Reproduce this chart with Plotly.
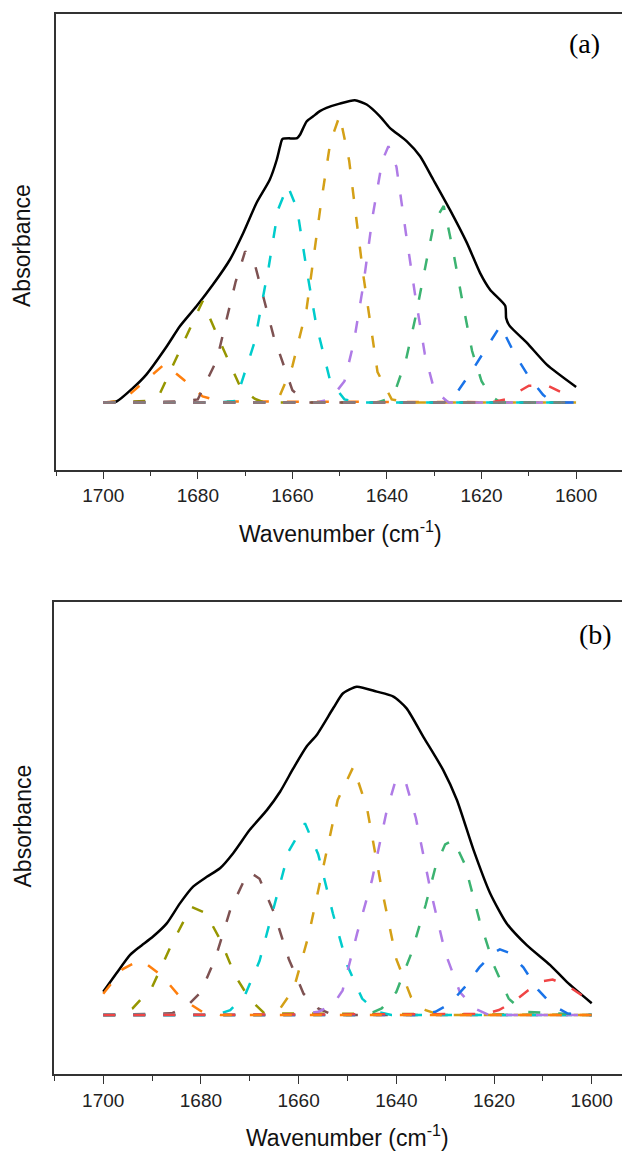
import plotly.graph_objects as go

# ---------------- panel (a) ----------------
a_env_x = [1700, 1697.2, 1693.7, 1690.9, 1686.6, 1683.8, 1680.3, 1676.8, 1673.2, 1670.4,
           1667.6, 1664.8, 1663.3, 1662.6, 1662.1, 1659.0, 1658.4, 1657.0, 1655.6, 1654.2,
           1652.8, 1650.0, 1646.8, 1644.3, 1641.5, 1639.4, 1635.8, 1633.0, 1630.2, 1626.7,
           1623.1, 1620.3, 1618.2, 1615.0, 1614.8, 1614.1, 1610.4, 1606.2, 1600]
a_env_y = [0, 0.003, 0.048, 0.092, 0.185, 0.252, 0.318, 0.390, 0.473, 0.561,
           0.660, 0.737, 0.804, 0.848, 0.872, 0.875, 0.886, 0.930, 0.947, 0.964,
           0.975, 0.989, 1.0, 0.986, 0.947, 0.909, 0.864, 0.815, 0.737, 0.638,
           0.528, 0.428, 0.373, 0.320, 0.279, 0.254, 0.197, 0.125, 0.051]

a_orange_x = [1700, 1696, 1692, 1687, 1683, 1679, 1675, 1600]
a_orange_y = [0, 0.005, 0.06, 0.127, 0.075, 0.02, 0.003, 0]
a_olive_x = [1700, 1690, 1688, 1683, 1679, 1675, 1671, 1668, 1666, 1600]
a_olive_y = [0, 0.005, 0.03, 0.2, 0.335, 0.19, 0.05, 0.012, 0, 0]
a_brown_x = [1700, 1684, 1680, 1676, 1672, 1670, 1668, 1664, 1660, 1657, 1600]
a_brown_y = [0, 0.003, 0.01, 0.14, 0.40, 0.50, 0.46, 0.22, 0.04, 0, 0]
a_cyan_x = [1700, 1676, 1672, 1668, 1665, 1663, 1661, 1659, 1657, 1655, 1652, 1649, 1646, 1600]
a_cyan_y = [0, 0, 0.005, 0.2, 0.45, 0.64, 0.717, 0.64, 0.44, 0.26, 0.07, 0.01, 0, 0]
a_gold_x = [1700, 1666, 1663, 1660, 1657, 1654, 1652, 1650, 1648, 1645, 1642, 1639, 1636, 1600]
a_gold_y = [0, 0, 0.01, 0.12, 0.31, 0.655, 0.86, 0.95, 0.80, 0.42, 0.10, 0.01, 0, 0]
a_purple_x = [1700, 1655, 1652, 1649, 1647, 1645, 1643, 1641, 1639.7, 1638, 1636, 1634,
              1632, 1630, 1627, 1600]
a_purple_y = [0, 0, 0.01, 0.07, 0.2, 0.39, 0.62, 0.80, 0.848, 0.78, 0.56, 0.35,
              0.16, 0.04, 0, 0]
a_green_x = [1700, 1642, 1640, 1638, 1636, 1634, 1632, 1630, 1628, 1626, 1624, 1622,
             1620, 1618, 1616, 1600]
a_green_y = [0, 0, 0.01, 0.05, 0.14, 0.28, 0.44, 0.60, 0.65, 0.50, 0.33, 0.17,
             0.07, 0.02, 0, 0]
a_blue_x = [1700, 1628, 1626, 1622, 1619, 1616, 1613, 1610, 1607, 1605, 1600]
a_blue_y = [0, 0, 0.015, 0.105, 0.18, 0.254, 0.16, 0.085, 0.025, 0, 0]
a_red_x = [1700, 1618, 1615, 1610, 1606, 1600]
a_red_y = [0, 0, 0.01, 0.055, 0.055, 0.01]
a_base_x = [1700, 1600]
a_base_y = [0, 0]

# ---------------- panel (b) ----------------
b_env_x = [1700, 1697.3, 1694.5, 1692.5, 1689.8, 1687.0, 1684.3, 1681.6, 1678.8, 1676.1,
           1673.4, 1670.0, 1666.5, 1663.8, 1661.1, 1658.4, 1656.3, 1652.9, 1650.9, 1648.1,
           1644.0, 1640.6, 1637.9, 1634.5, 1630.4, 1627.6, 1624.2, 1620.8, 1617.4, 1613.3,
           1608.5, 1605.1, 1600]
b_env_y = [0.071, 0.127, 0.183, 0.208, 0.239, 0.279, 0.340, 0.391, 0.421, 0.447,
           0.493, 0.564, 0.624, 0.680, 0.751, 0.817, 0.853, 0.935, 0.980, 1.0,
           0.985, 0.970, 0.934, 0.848, 0.746, 0.655, 0.503, 0.371, 0.279, 0.213,
           0.152, 0.101, 0.036]

b_orange_x = [1700, 1696, 1693, 1692, 1688, 1684, 1680, 1676, 1600]
b_orange_y = [0.065, 0.14, 0.163, 0.165, 0.12, 0.05, 0.012, 0, 0]
b_olive_x = [1700, 1697, 1694, 1690, 1686, 1682, 1679, 1676, 1673, 1670, 1667, 1600]
b_olive_y = [0, 0, 0.02, 0.085, 0.215, 0.33, 0.31, 0.228, 0.12, 0.048, 0.005, 0]
b_brown_x = [1700, 1686, 1683, 1680, 1677, 1674, 1671, 1670, 1668, 1665, 1662, 1659,
             1656, 1653, 1600]
b_brown_y = [0, 0.005, 0.025, 0.07, 0.175, 0.32, 0.415, 0.435, 0.415, 0.31, 0.17, 0.065,
             0.02, 0, 0]
b_cyan_x = [1700, 1677, 1674, 1671, 1668, 1665, 1662, 1658.7, 1656, 1653, 1650, 1647,
            1644, 1641, 1600]
b_cyan_y = [0, 0, 0.015, 0.06, 0.165, 0.33, 0.50, 0.584, 0.49, 0.31, 0.15, 0.05,
            0.01, 0, 0]
b_gold_x = [1700, 1666, 1664, 1661, 1658, 1655, 1652, 1648.8, 1646, 1643, 1640, 1637,
            1634, 1631, 1600]
b_gold_y = [0, 0, 0.015, 0.08, 0.24, 0.447, 0.655, 0.756, 0.63, 0.385, 0.17, 0.055,
            0.015, 0, 0]
b_purple_x = [1700, 1660, 1656, 1653, 1651, 1648, 1645, 1642, 1640, 1638, 1636, 1633,
              1630, 1627, 1624, 1621, 1600]
b_purple_y = [0, 0, 0.01, 0.03, 0.075, 0.25, 0.41, 0.62, 0.722, 0.705, 0.60, 0.38,
              0.19, 0.07, 0.02, 0, 0]
b_green_x = [1700, 1646, 1643, 1640, 1637, 1634, 1632, 1630, 1628.3, 1626, 1623, 1620,
             1617, 1614, 1600]
b_green_y = [0, 0, 0.02, 0.07, 0.185, 0.335, 0.45, 0.52, 0.533, 0.46, 0.29, 0.15,
             0.05, 0.01, 0]
b_blue_x = [1700, 1636, 1632, 1629, 1626, 1623, 1620, 1618.8, 1617, 1614, 1611, 1608,
            1605, 1602, 1600]
b_blue_y = [0, 0, 0.01, 0.035, 0.085, 0.145, 0.19, 0.20, 0.19, 0.145, 0.077, 0.03,
            0.005, 0, 0]
b_red_x = [1700, 1622, 1619, 1616, 1613, 1610, 1608, 1605, 1602, 1600]
b_red_y = [0, 0.003, 0.015, 0.04, 0.075, 0.103, 0.108, 0.09, 0.06, 0.036]

major_ticks = [1700, 1680, 1660, 1640, 1620, 1600]
minor_ticks = [1710, 1690, 1670, 1650, 1630, 1610, 1590]

# styles
col = {
    "orange": "#FF7F0E", "olive": "#969600", "brown": "#7E5252", "cyan": "#00CCCC",
    "gold": "#D4A017", "purple": "#AF7BE6", "green": "#3CB371", "blue": "#1A73E8",
    "red": "#F04545", "gray": "#808080",
}
DASH = "12px,18px"
W, H = 622, 1151

fig = go.Figure()


def add(x, y, color, xa, ya, dash=DASH, shape="linear"):
    fig.add_trace(go.Scatter(x=x, y=y, mode="lines", xaxis=xa, yaxis=ya,
                             line=dict(color=color, width=2.5, dash=dash, shape=shape,
                                       smoothing=0.6),
                             showlegend=False, hoverinfo="skip"))


# (a) envelope then components, grey baseline on top
add(a_env_x, a_env_y, "black", "x", "y", dash="solid", shape="spline")
for xs, ys, c in [(a_orange_x, a_orange_y, "orange"), (a_olive_x, a_olive_y, "olive"),
                  (a_brown_x, a_brown_y, "brown"), (a_cyan_x, a_cyan_y, "cyan"),
                  (a_gold_x, a_gold_y, "gold"), (a_purple_x, a_purple_y, "purple"),
                  (a_green_x, a_green_y, "green"), (a_blue_x, a_blue_y, "blue"),
                  (a_red_x, a_red_y, "red"), (a_base_x, a_base_y, "gray")]:
    add(xs, ys, col[c], "x", "y")

# (b)
add(b_env_x, b_env_y, "black", "x2", "y2", dash="solid", shape="spline")
for xs, ys, c in [(b_olive_x, b_olive_y, "olive"), (b_brown_x, b_brown_y, "brown"),
                  (b_cyan_x, b_cyan_y, "cyan"), (b_gold_x, b_gold_y, "gold"),
                  (b_purple_x, b_purple_y, "purple"), (b_green_x, b_green_y, "green"),
                  (b_blue_x, b_blue_y, "blue"), (b_red_x, b_red_y, "red"),
                  (b_orange_x, b_orange_y, "orange")]:
    add(xs, ys, col[c], "x2", "y2")

sans = "Arial, Liberation Sans, sans-serif"
serif = "Times New Roman, Liberation Serif, serif"
axcol = "#333333"


def xax(dom, rng, anchor):
    return dict(domain=dom, range=rng, anchor=anchor, showline=True, linecolor=axcol,
                linewidth=1.5, mirror=True, ticks="outside", ticklen=8, tickwidth=1.2,
                tickcolor=axcol, tickmode="array", tickvals=major_ticks,
                tickfont=dict(family=sans, size=19, color="#222222"),
                minor=dict(tickmode="array", tickvals=minor_ticks, ticks="outside",
                           ticklen=5, tickwidth=1.2, tickcolor=axcol),
                showgrid=False, zeroline=False)


def yax(dom, rng, anchor):
    return dict(domain=dom, range=rng, anchor=anchor, showline=True, linecolor=axcol,
                linewidth=1.5, ticks="", showticklabels=False, showgrid=False,
                zeroline=False)


fig.update_layout(
    width=W, height=H, margin=dict(l=0, r=0, t=0, b=0),
    paper_bgcolor="white", plot_bgcolor="white",
    xaxis=xax([56 / W, 1], [1710, 1590.3], "y"),
    yaxis=yax([1 - 469.7 / H, 1 - 13.6 / H], [-0.2228, 1.287], "x"),
    xaxis2=xax([54.4 / W, 1], [1710, 1593.8], "y2"),
    yaxis2=yax([1 - 1074.3 / H, 1 - 601.8 / H], [-0.1806, 1.2586], "x2"),
)

xtitle = "Wavenumber (cm<sup>-1</sup>)"
notes = [
    dict(text="(a)", x=584 / W, y=1 - 43 / H, font=dict(family=serif, size=28, color="black")),
    dict(text="(b)", x=595 / W, y=1 - 634.6 / H, font=dict(family=serif, size=28, color="black")),
    dict(text=xtitle, x=340 / W, y=1 - 532 / H, font=dict(family=sans, size=23, color="#111111")),
    dict(text=xtitle, x=347 / W, y=1 - 1136 / H, font=dict(family=sans, size=23, color="#111111")),
    dict(text="Absorbance", x=22 / W, y=1 - 246 / H, textangle=-90,
         font=dict(family=sans, size=23, color="#111111")),
    dict(text="Absorbance", x=22.8 / W, y=1 - 825.7 / H, textangle=-90,
         font=dict(family=sans, size=23, color="#111111")),
]
for n in notes:
    fig.add_annotation(xref="paper", yref="paper", showarrow=False,
                       xanchor="center", yanchor="middle", **n)

# drop the browser's default body margin so the figure sits at the page corner
fig.write_html("out.html", config={"displayModeBar": False},
               post_script="document.body.style.margin='0';")
